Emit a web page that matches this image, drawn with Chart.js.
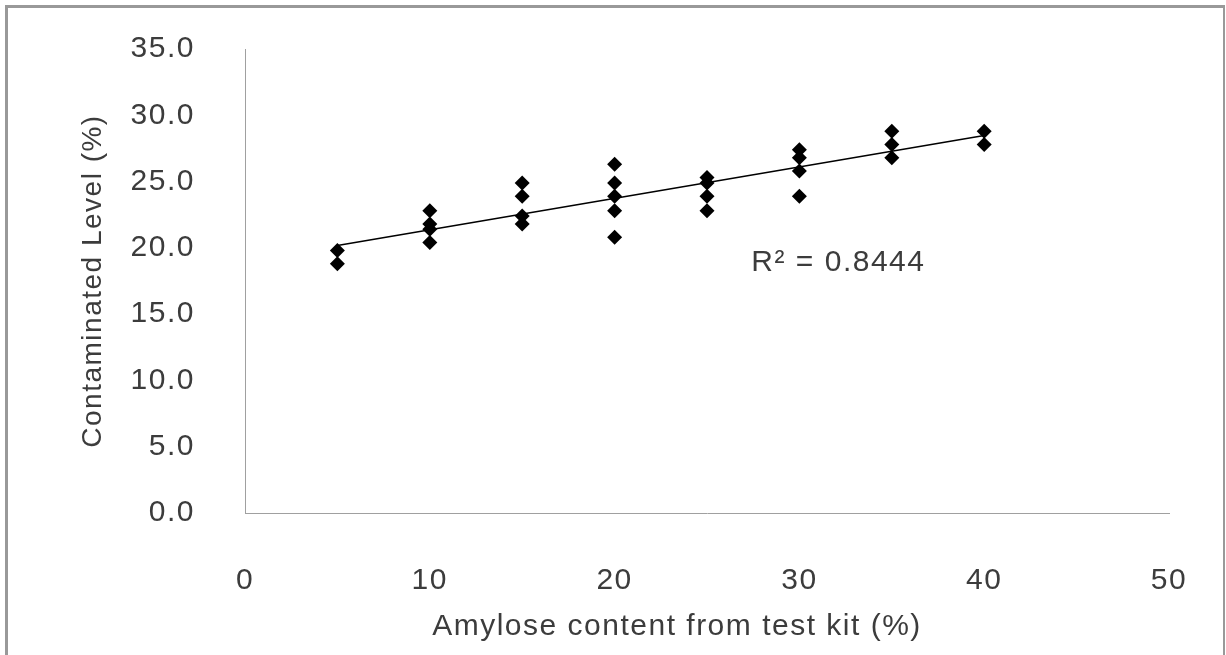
<!DOCTYPE html>
<html>
<head>
<meta charset="utf-8">
<title>Amylose vs Contaminated Level</title>
<script src="https://cdn.jsdelivr.net/npm/chart.js@4.4.1/dist/chart.umd.min.js"></script>
<style>
    html, body { margin: 0; padding: 0; background: #fff; overflow: hidden; }
    .frame {
        position: absolute; left: 5px; top: 5px; width: 1215px; height: 700px;
        border-left: 3px solid #999; border-top: 3px solid #999; border-right: 2px solid #999;
        pointer-events: none;
    }
    #wrap { position: absolute; left: 0; top: 0; width: 1226px; height: 655px; }
</style>
</head>
<body>
<div id="wrap"><canvas id="chartScatter"></canvas></div>
<div class="frame"></div>
<script>
/* ---------- Data ---------- */
const amylose = [5, 5, 10, 10, 10, 10, 15, 15, 15, 15, 20, 20, 20, 20, 20,
                 25, 25, 25, 25, 30, 30, 30, 30, 35, 35, 35, 40, 40];
const contaminated = [19.8, 18.8, 22.8, 21.8, 21.4, 20.4, 24.9, 23.9, 22.4, 21.8,
                      26.3, 24.9, 23.9, 22.8, 20.8, 25.3, 24.9, 23.9, 22.8,
                      27.4, 26.8, 25.8, 23.9, 28.8, 27.8, 26.8, 28.8, 27.8];
const xTicks = [0, 10, 20, 30, 40, 50];
const yTicks = [0, 5, 10, 15, 20, 25, 30, 35];
const xTitle = 'Amylose content from test kit (%)';
const yTitle = 'Contaminated Level (%)';
const r2Label = 'R\u00B2 = 0.8444';

/* ---------- Linear trend (least squares) ---------- */
function linearFit(xs, ys) {
    const n = xs.length;
    const mx = xs.reduce((a, b) => a + b, 0) / n;
    const my = ys.reduce((a, b) => a + b, 0) / n;
    let sxy = 0, sxx = 0;
    xs.forEach((x, i) => { sxy += (x - mx) * (ys[i] - my); sxx += (x - mx) * (x - mx); });
    const slope = sxy / sxx;
    return { slope, intercept: my - slope * mx };
}
const fit = linearFit(amylose, contaminated);
const xMin = Math.min(...amylose), xMax = Math.max(...amylose);
const trend = [xMin, xMax].map(x => ({ x, y: fit.intercept + fit.slope * x }));

const textColor = '#3c3c3c';
const fontFamily = "'Liberation Sans', Arial, sans-serif";

/* ---------- Annotations: R² label and x-axis title (Excel puts it left of centre) ---------- */
const textPlugin = {
    id: 'extraText',
    afterDatasetsDraw(chart) {
        const { ctx, chartArea, scales: { x, y } } = chart;
        ctx.save();
        ctx.font = '30px ' + fontFamily;
        ctx.fillStyle = textColor;
        ctx.textBaseline = 'middle';
        ctx.textAlign = 'left';
        ctx.fillText(r2Label, x.getPixelForValue(27.4), y.getPixelForValue(18.9));
        ctx.textAlign = 'center';
        ctx.fillText(xTitle, (chartArea.left + chartArea.right) / 2 - 30, chart.height - 28);
        ctx.restore();
    }
};

// canvas resets its state on resize, so spacing is set again before layout and draw
const spacing = {
    id: 'letterSpacing',
    beforeUpdate(chart) { chart.ctx.letterSpacing = '1.5px'; },
    beforeDraw(chart) { chart.ctx.letterSpacing = '1.5px'; }
};

new Chart(document.getElementById('chartScatter'), {
    type: 'scatter',
    data: {
        datasets: [{
            label: 'Samples',
            data: amylose.map((x, i) => ({ x, y: contaminated[i] })),
            pointStyle: 'rectRot',
            pointRadius: 7.5,
            pointHoverRadius: 7.5,
            backgroundColor: '#000',
            borderColor: '#000',
            borderWidth: 0
        }, {
            label: 'Trend',
            type: 'line',
            data: trend,
            borderColor: '#000',
            borderWidth: 1.5,
            pointRadius: 0,
            fill: false
        }]
    },
    options: {
        responsive: true, maintainAspectRatio: false, animation: false,
        layout: { padding: { top: 49, right: 57, bottom: 0, left: 0 } },
        plugins: { legend: { display: false }, tooltip: { enabled: false } },
        scales: {
            x: {
                type: 'linear', min: 0, max: 50,
                afterBuildTicks: s => { s.ticks = xTicks.map(v => ({ value: v })); },
                afterFit: s => { s.height = 142; s.paddingLeft = 0; s.paddingRight = 0; },
                grid: { display: false, drawTicks: false },
                border: { display: true, color: '#a0a0a0', width: 1 },
                ticks: { padding: 50, color: textColor, font: { family: fontFamily, size: 30 } }
            },
            y: {
                type: 'linear', min: 0, max: 35,
                afterBuildTicks: s => { s.ticks = yTicks.map(v => ({ value: v })); },
                afterFit: s => { s.width = 245; s.paddingTop = 0; s.paddingBottom = 0; },
                grid: { display: false, drawTicks: false },
                border: { display: true, color: '#a0a0a0', width: 1 },
                ticks: {
                    padding: 50, color: textColor, font: { family: fontFamily, size: 30 },
                    callback: v => v.toFixed(1)
                },
                title: {
                    display: true, text: yTitle, color: textColor,
                    font: { family: fontFamily, size: 28 }, padding: { top: 76, bottom: 0 }
                }
            }
        }
    },
    plugins: [spacing, textPlugin]
});
</script>
</body>
</html>
